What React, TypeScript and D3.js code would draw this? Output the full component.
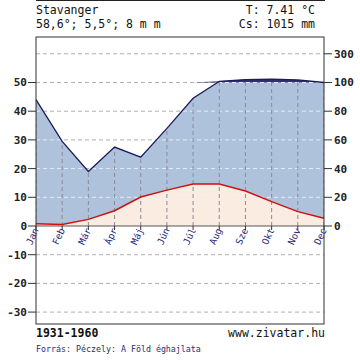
import React from "react";
import * as d3 from "d3";

const months = ["Jan", "Feb", "Már", "Ápr", "Máj", "Jún", "Júl", "Aug", "Sze", "Okt", "Nov", "Dec"];
const temperature = [0.8, 0.5, 2.3, 5.3, 10.1, 12.5, 14.6, 14.6, 12.2, 8.5, 5.0, 2.7];
const precipitation = [88, 59, 38, 55, 48, 68, 89, 108, 120, 124, 118, 100];
const tempTicks = [-30, -20, -10, 0, 10, 20, 30, 40, 50];
const gridLevels = [-30, -20, -10, 10, 20, 30, 40, 50, 60];
const precipTicks = [0, 20, 40, 60, 80, 100, 300];

const FONT = "'DejaVu Sans Mono', monospace";

export default function App() {
  const W = 360, H = 360;
  const left = 36, right = 324, top = 37, bottom = 324;
  const x = d3.scalePoint<string>().domain(months).range([left, right]);
  const y = d3.scaleLinear().domain([-34.15, 65.85]).range([bottom, top]);
  const pToT = (p: number) => (p <= 100 ? p / 2 : 50 + (p - 100) / 20);

  const rows = months.map((m, i) => ({ m, t: temperature[i], p: pToT(precipitation[i]), praw: precipitation[i] }));

  const precipArea = d3.area<any>().x(d => x(d.m)!).y0(y(0)).y1(d => y(d.p))(rows)!;
  const blueArea = d3.area<any>().x(d => x(d.m)!).y0(d => y(d.t)).y1(d => y(Math.min(d.p, 50)))(rows)!;
  const darkArea = d3.area<any>().x(d => x(d.m)!).y0(y(50)).y1(d => y(Math.max(d.p, 50)))(rows)!;
  const tempArea = d3.area<any>().x(d => x(d.m)!).y0(y(0)).y1(d => y(d.t))(rows)!;
  const precipLine = d3.line<any>().x(d => x(d.m)!).y(d => y(d.p))(rows)!;
  const tempLine = d3.line<any>().x(d => x(d.m)!).y(d => y(d.t))(rows)!;

  const navy = "#1c1c5c";

  return (
    <svg width={W} height={H} style={{ position: "absolute", left: 0, top: 0, background: "#fff" }}>
      <defs>
        <clipPath id="pa"><path d={precipArea} /></clipPath>
      </defs>
      <rect x={0} y={0} width={W} height={H} fill="#fff" />
      <line x1={left} x2={right + 1} y1={0.5} y2={0.5} stroke="#222" />
      <text x={left} y={14} fontFamily={FONT} fontSize={11.5} fill="#111">Stavanger</text>
      <text x={left} y={28} fontFamily={FONT} fontSize={11.5} fill="#111">58,6°; 5,5°; 8 m m</text>
      <text x={315} y={14} fontFamily={FONT} fontSize={11.5} fill="#111" textAnchor="end">T: 7.41 °C</text>
      <text x={315} y={28} fontFamily={FONT} fontSize={11.5} fill="#111" textAnchor="end">Cs: 1015 mm</text>

      {/* grid below fills */}
      {gridLevels.map(v => (
        <line key={v} x1={left} x2={right} y1={y(v)} y2={y(v)} stroke="#b0b0b0" strokeDasharray="4,3" />
      ))}

      <path d={blueArea} fill="#aec2dc" />
      <path d={tempArea} fill="#fbece2" />
      <path d={darkArea} fill="#2e2e70" />

      {/* grid over fills */}
      <g clipPath="url(#pa)">
        {gridLevels.map(v => (
          <line key={v} x1={left} x2={right} y1={y(v)} y2={y(v)} stroke="#e6ecf4" strokeDasharray="4,3" />
        ))}
        {months.map(m => (
          <line key={m} x1={x(m)} x2={x(m)} y1={y(0)} y2={top} stroke="#8a8a9a" strokeDasharray="4,3" />
        ))}
      </g>

      <path d={precipLine} fill="none" stroke={navy} strokeWidth={1.3} />
      <path d={tempLine} fill="none" stroke="#cc1111" strokeWidth={1.5} />

      {/* zero line */}
      <line x1={left} x2={right} y1={y(0)} y2={y(0)} stroke="#555" strokeWidth={1} />

      {/* frame */}
      <rect x={left} y={top} width={right - left} height={bottom - top} fill="none" stroke="#333" strokeWidth={1} />

      {/* left axis */}
      {tempTicks.map(v => (
        <g key={v}>
          <line x1={left - 8} x2={left} y1={y(v)} y2={y(v)} stroke="#333" />
          <text x={left - 9} y={y(v) + 4} textAnchor="end" fontFamily={FONT} fontSize={11} fontWeight="bold" fill="#222">{v}</text>
        </g>
      ))}
      {/* right axis */}
      {precipTicks.map(v => (
        <g key={v}>
          <line x1={right} x2={right + 8} y1={y(pToT(v))} y2={y(pToT(v))} stroke="#333" />
          <text x={right + 10} y={y(pToT(v)) + 4} fontFamily={FONT} fontSize={11} fontWeight="bold" fill="#222">{v}</text>
        </g>
      ))}

      {/* month ticks and labels */}
      {months.map(m => (
        <g key={m}>
          <line x1={x(m)} x2={x(m)} y1={y(0)} y2={y(0) + 4} stroke="#333" />
          <text transform={`translate(${x(m)! + 3},${y(0) + 4}) rotate(-65)`} textAnchor="end" fontFamily={FONT} fontSize={9.5} fill="#2a2a80">{m}</text>
        </g>
      ))}

      <text x={left} y={337} fontFamily={FONT} fontSize={11.5} fontWeight="bold" fill="#111">1931-1960</text>
      <text x={right + 1} y={337} textAnchor="end" fontFamily={FONT} fontSize={11.5} fill="#111">www.zivatar.hu</text>
      <text x={left} y={352} fontFamily={FONT} fontSize={8.3} fill="#2a2a80">Forrás: Péczely: A Föld éghajlata</text>
    </svg>
  );
}
